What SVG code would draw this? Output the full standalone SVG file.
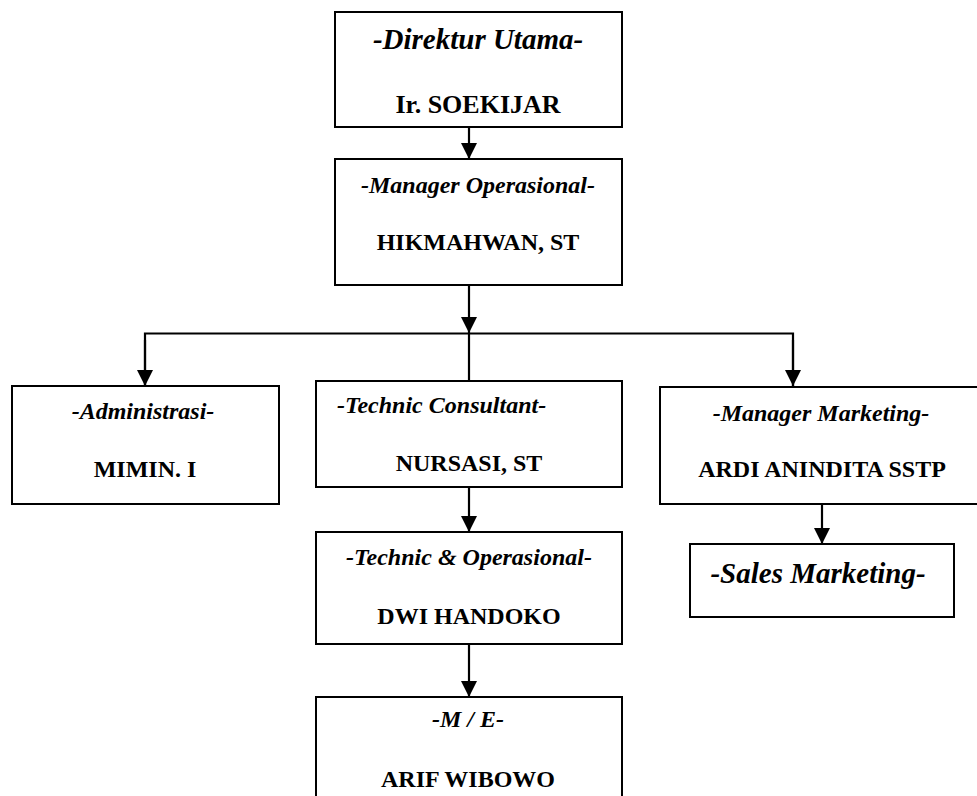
<svg xmlns="http://www.w3.org/2000/svg" width="977" height="796" viewBox="0 0 977 796">
<defs>
<style>
.box{fill:#fff;stroke:#000;stroke-width:2}
.ln{fill:none;stroke:#000;stroke-width:2.2}
.t{font-family:"Liberation Serif","Times New Roman",serif;font-weight:bold;font-style:italic;font-size:24px;text-anchor:middle;fill:#000}
.n{font-family:"Liberation Serif","Times New Roman",serif;font-weight:bold;font-size:24px;text-anchor:middle;fill:#000}
</style>
<marker id="ah" viewBox="0 0 16 16" refX="16" refY="8" markerWidth="16" markerHeight="16" markerUnits="userSpaceOnUse" orient="auto">
<path d="M0,0 L16,8 L0,16 Z" fill="#000"/>
</marker>
</defs>
<rect width="977" height="796" fill="#fff"/>
<g id="connectors">
<line class="ln" x1="469" y1="127" x2="469" y2="159" marker-end="url(#ah)"/>
<line class="ln" x1="469" y1="285" x2="469" y2="333" marker-end="url(#ah)"/>
<polyline class="ln" points="145,386 145,333.5 793,333.5 793,386" />
<line class="ln" x1="145" y1="340" x2="145" y2="386" marker-end="url(#ah)"/>
<line class="ln" x1="793" y1="340" x2="793" y2="386" marker-end="url(#ah)"/>
<line class="ln" x1="469" y1="333" x2="469" y2="381"/>
<line class="ln" x1="469" y1="487" x2="469" y2="532" marker-end="url(#ah)"/>
<line class="ln" x1="469" y1="644" x2="469" y2="697" marker-end="url(#ah)"/>
<line class="ln" x1="822" y1="504" x2="822" y2="544" marker-end="url(#ah)"/>
</g>
<g id="direktur">
<rect class="box" x="335" y="12" width="287" height="115"/>
<text class="t" x="478" y="49" style="font-size:29px">-Direktur Utama-</text>
<text class="n" x="478" y="113" style="font-size:26px">Ir. SOEKIJAR</text>
</g>
<g id="manager-operasional">
<rect class="box" x="335" y="159" width="287" height="126"/>
<text class="t" x="478" y="193">-Manager Operasional-</text>
<text class="n" x="478" y="250">HIKMAHWAN, ST</text>
</g>
<g id="administrasi">
<rect class="box" x="12" y="386" width="267" height="118"/>
<text class="t" x="143" y="419">-Administrasi-</text>
<text class="n" x="145" y="477">MIMIN. I</text>
</g>
<g id="technic-consultant">
<rect class="box" x="316" y="381" width="306" height="106"/>
<text class="t" x="337" y="413" style="text-anchor:start">-Technic Consultant-</text>
<text class="n" x="469" y="471">NURSASI, ST</text>
</g>
<g id="manager-marketing">
<rect class="box" x="660" y="387" width="330" height="117"/>
<text class="t" x="821" y="421">-Manager Marketing-</text>
<text class="n" x="822" y="477">ARDI ANINDITA SSTP</text>
</g>
<g id="sales-marketing">
<rect class="box" x="690" y="544" width="264" height="73"/>
<text class="t" x="818" y="583" style="font-size:29px">-Sales Marketing-</text>
</g>
<g id="technic-operasional">
<rect class="box" x="316" y="532" width="306" height="112"/>
<text class="t" x="469" y="565">-Technic &amp; Operasional-</text>
<text class="n" x="469" y="624">DWI HANDOKO</text>
</g>
<g id="me">
<rect class="box" x="316" y="697" width="306" height="120"/>
<text class="t" x="468" y="727">-M / E-</text>
<text class="n" x="468" y="787">ARIF WIBOWO</text>
</g>
</svg>
